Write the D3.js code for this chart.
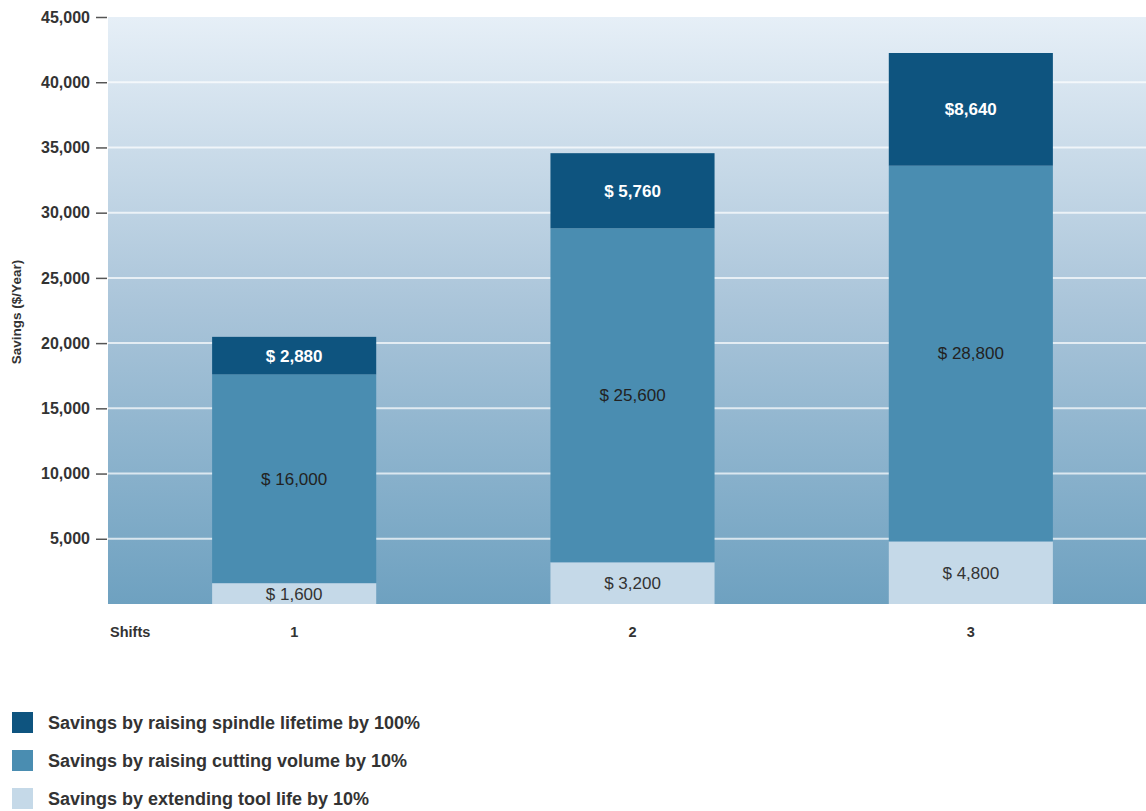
<!DOCTYPE html>
<html>
<head>
<meta charset="utf-8">
<script src="https://cdn.jsdelivr.net/npm/d3@7"></script>
<style>
  body { margin: 0; background: #fff; }
  svg text { font-family: "Liberation Sans", Arial, sans-serif; }
</style>
</head>
<body>
<svg></svg>
<script>
// data
var shifts = ['1', '2', '3'];
var toolLife = [1600, 3200, 4800];
var cuttingVolume = [16000, 25600, 28800];
var spindleLife = [2880, 5760, 8640];
var yTicks = [5000, 10000, 15000, 20000, 25000, 30000, 35000, 40000, 45000];
var segmentLabels = [
    ['$ 1,600', '$ 3,200', '$ 4,800'],
    ['$ 16,000', '$ 25,600', '$ 28,800'],
    ['$ 2,880', '$ 5,760', '$8,640']
];
var seriesNames = [
    'Savings by extending tool life by 10%',
    'Savings by raising cutting volume by 10%',
    'Savings by raising spindle lifetime by 100%'
];
var seriesColors = ['#c5d9e8', '#4a8db1', '#0e547f'];
var labelColors = ['#333', '#222', '#fff'];

document.addEventListener('DOMContentLoaded', () => {
    var width = 1146;
    var height = 811;
    var left = 108, right = 1146, top = 17, bottom = 604;

    var svg = d3.select('svg')
        .attr('width', width)
        .attr('height', height)

    var rows = shifts.map((s, i) => ({
        shift: s, tool: toolLife[i], cut: cuttingVolume[i], spindle: spindleLife[i]
    }))
    var stack = d3.stack().keys(['tool', 'cut', 'spindle'])(rows)

    var xScale = d3.scaleBand()
        .domain(shifts)
        .range([125, 1140])
        .paddingInner(0.515)
        .paddingOuter(0.2575)

    var yScale = d3.scaleLinear()
        .domain([0, 45000])
        .range([bottom, top])

    // background gradient
    var grad = svg.append('defs').append('linearGradient')
        .attr('id', 'bg')
        .attr('x1', 0).attr('y1', 0).attr('x2', 0).attr('y2', 1)
    grad.append('stop').attr('offset', '0%').attr('stop-color', '#e6eff7')
    grad.append('stop').attr('offset', '50%').attr('stop-color', '#a9c4d9')
    grad.append('stop').attr('offset', '100%').attr('stop-color', '#6ea1c0')

    svg.append('rect')
        .attr('x', left)
        .attr('y', top)
        .attr('width', right - left)
        .attr('height', bottom - top)
        .attr('fill', 'url(#bg)')

    // gridlines + axis
    var yAxis = d3.axisLeft(yScale)
        .tickValues(yTicks)
        .tickFormat(d3.format(','))
        .tickSize(11)
        .tickPadding(6)

    var gy = svg.append('g')
        .attr('transform', 'translate(' + (left - 1) + ',0)')
        .call(yAxis)
    gy.select('.domain').remove()
    gy.selectAll('line').attr('stroke', '#555').attr('stroke-width', 1.5)
    gy.selectAll('text')
        .attr('fill', '#333')
        .style('font-size', '16px')
        .style('font-weight', 'bold')

    svg.append('g')
        .selectAll('line')
        .data(yTicks.filter(d => d < 45000))
        .enter()
        .append('line')
            .attr('x1', left)
            .attr('x2', right)
            .attr('y1', d => yScale(d))
            .attr('y2', d => yScale(d))
            .attr('stroke', '#fff')
            .attr('stroke-opacity', 0.7)
            .attr('stroke-width', 2)

    // bars
    var layers = svg.append('g')
        .selectAll('g')
        .data(stack)
        .enter()
        .append('g')
            .attr('fill', (d, i) => seriesColors[i])

    layers.selectAll('rect')
        .data(d => d)
        .enter()
        .append('rect')
            .attr('x', d => xScale(d.data.shift))
            .attr('y', d => yScale(d[1]))
            .attr('width', xScale.bandwidth())
            .attr('height', d => yScale(d[0]) - yScale(d[1]))

    layers.each(function(layer, li) {
        d3.select(this).selectAll('text')
            .data(layer)
            .enter()
            .append('text')
                .text((d, i) => segmentLabels[li][i])
                .attr('x', d => xScale(d.data.shift) + xScale.bandwidth() / 2)
                .attr('y', d => (yScale(d[0]) + yScale(d[1])) / 2)
                .attr('dy', '0.35em')
                .attr('text-anchor', 'middle')
                .attr('fill', labelColors[li])
                .style('font-size', '17px')
                .style('font-weight', li === 2 ? 'bold' : 'normal')
    })

    // x labels
    svg.append('text')
        .text('Shifts')
        .attr('x', 110)
        .attr('y', 637)
        .attr('fill', '#333')
        .style('font-size', '14.5px')
        .style('font-weight', 'bold')

    svg.append('g')
        .selectAll('text')
        .data(shifts)
        .enter()
        .append('text')
            .text(d => d)
            .attr('x', d => xScale(d) + xScale.bandwidth() / 2)
            .attr('y', 637)
            .attr('text-anchor', 'middle')
            .attr('fill', '#333')
            .style('font-size', '14.5px')
            .style('font-weight', 'bold')

    // y label
    svg.append('text')
        .text('Savings ($/Year)')
        .attr('transform', 'translate(21,312) rotate(-90)')
        .attr('text-anchor', 'middle')
        .attr('fill', '#333')
        .style('font-size', '13.5px')
        .style('font-weight', 'bold')

    // legend
    var legendOrder = [2, 1, 0]
    var legend = svg.append('g')
        .selectAll('g')
        .data(legendOrder)
        .enter()
        .append('g')
            .attr('transform', (d, i) => 'translate(12,' + (712 + i * 38) + ')')

    legend.append('rect')
        .attr('width', 21)
        .attr('height', 21)
        .attr('fill', d => seriesColors[d])

    legend.append('text')
        .text(d => seriesNames[d])
        .attr('x', 36)
        .attr('y', 11)
        .attr('dy', '0.35em')
        .attr('fill', '#333')
        .style('font-size', '18px')
        .style('font-weight', 'bold')
})
</script>
</body>
</html>
